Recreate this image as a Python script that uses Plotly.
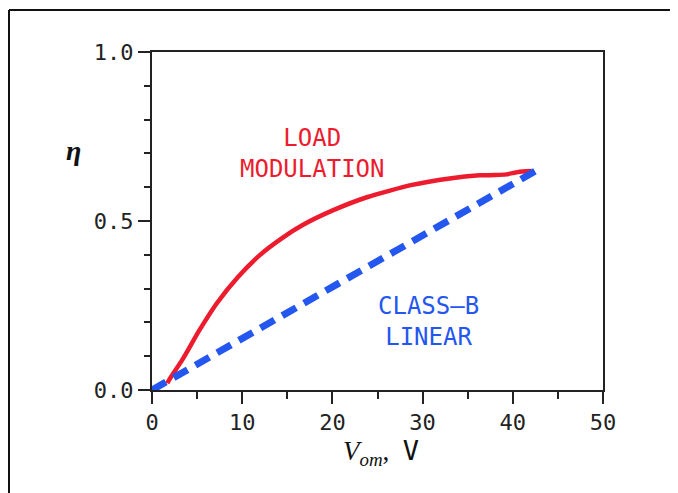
import plotly.graph_objects as go

# Data
load_mod_v = [1.7, 1.9, 3.35, 5.26, 7.17, 9.56, 11.95, 14.34, 16.7, 20.1, 23.9, 28.7, 33.0, 36.3, 38.0, 39.3, 40.6, 42.1]
load_mod_eta = [0.02, 0.03, 0.089, 0.177, 0.256, 0.335, 0.399, 0.448, 0.488, 0.532, 0.571, 0.606, 0.626, 0.635, 0.636, 0.638, 0.645, 0.648]

classb_v = [0.0, 43.3]
classb_eta = [0.0, 0.66]

x_ticks = [0, 10, 20, 30, 40, 50]
y_ticks = [0.0, 0.5, 1.0]

RED = "#ec1c2e"
BLUE = "#2456f0"
MONO = "DejaVu Sans Mono"

# page offset of the figure inside the browser (default body margin)
OFF = 8
L, T, PW, PH = 152 - OFF, 52 - OFF, 451, 338

fig = go.Figure()
fig.add_trace(go.Scatter(x=load_mod_v, y=load_mod_eta, mode="lines",
                         line=dict(color=RED, width=4.5, shape="spline", smoothing=0.5),
                         showlegend=False, hoverinfo="skip"))
fig.add_trace(go.Scatter(x=classb_v, y=classb_eta, mode="lines",
                         line=dict(color=BLUE, width=7, dash="16px,9px"),
                         showlegend=False, hoverinfo="skip"))

axis_common = dict(showline=True, linecolor="#222", linewidth=2, mirror=True,
                   ticks="outside", ticklen=12, tickwidth=2, tickcolor="#222",
                   showgrid=False, zeroline=False,
                   tickfont=dict(family=MONO, size=22, color="#222"))

fig.update_xaxes(range=[0, 50], tickvals=x_ticks, ticktext=[str(v) for v in x_ticks],
                 minor=dict(dtick=5, tick0=0, ticks="outside", ticklen=7, tickwidth=2, tickcolor="#222", showgrid=False),
                 **axis_common)
fig.update_yaxes(range=[0, 1.0], tickvals=y_ticks, ticktext=["%.1f" % v for v in y_ticks],
                 minor=dict(dtick=0.1, tick0=0, ticks="outside", ticklen=6, tickwidth=2, tickcolor="#222", showgrid=False),
                 **axis_common)

fig.add_annotation(x=17.8, y=0.70, xref="x", yref="y", text="LOAD<br>MODULATION",
                   showarrow=False, font=dict(family=MONO, size=24, color=RED), align="center")
fig.add_annotation(x=30.7, y=0.204, xref="x", yref="y", text="CLASS\u2013B<br>LINEAR",
                   showarrow=False, font=dict(family=MONO, size=24, color=BLUE), align="center")

def px(xs):
    return (xs - 152) / PW

def py(ys):
    return (390 - ys) / PH

# y-axis title eta
fig.add_annotation(x=px(73), y=py(150), xref="paper", yref="paper", text="<i><b>η</b></i>", showarrow=False,
                   xanchor="center", yanchor="middle",
                   font=dict(family="Liberation Serif", size=28, color="#111"))
# x-axis title
fig.add_annotation(x=px(381), y=py(452), xref="paper", yref="paper",
                   text="<i>V</i><sub><i>om</i></sub>,  <span style=\"font-family:'DejaVu Sans Mono'\">V</span>",
                   showarrow=False, xanchor="center", yanchor="middle",
                   font=dict(family="Liberation Serif", size=27, color="#111"))

# Frame lines (top and left)
fig.add_shape(type="line", xref="paper", yref="paper", x0=px(OFF + 1), x1=px(700),
              y0=py(10), y1=py(10), line=dict(color="#111", width=2))
fig.add_shape(type="line", xref="paper", yref="paper", x0=px(OFF + 1), x1=px(OFF + 1),
              y0=py(10), y1=py(520), line=dict(color="#111", width=2))

fig.update_layout(width=678, height=493,
                  margin=dict(l=L, r=678 - L - PW, t=T, b=493 - T - PH),
                  paper_bgcolor="white", plot_bgcolor="white")

fig.write_html("out.html")
